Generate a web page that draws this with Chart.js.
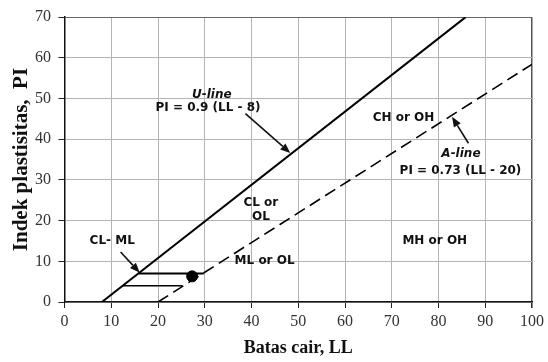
<!DOCTYPE html>
<html>
<head>
<meta charset="UTF-8">
<title>Plasticity chart</title>
<script src="https://cdn.jsdelivr.net/npm/chart.js"></script>
<style>
  html, body { margin: 0; padding: 0; background: #ffffff; }
  #wrap { width: 548px; height: 362px; }
</style>
</head>
<body>
<div id="wrap"><canvas id="plastChart"></canvas></div>
<script>
// axis ticks
const xTicks = [0, 10, 20, 30, 40, 50, 60, 70, 80, 90, 100];
const yTicks = [0, 10, 20, 30, 40, 50, 60, 70];

// U-line PI = 0.9 (LL - 8)
const uLineLL = [8, 85.8];
const uLinePI = [0, 70];
// A-line PI = 0.73 (LL - 20)
const aLineLL = [20, 100];
const aLinePI = [0, 58.4];
// CL-ML band
const bandTopLL = [15.8, 29.8];
const bandTopPI = [7, 7];
const bandLowLL = [12.4, 25.2];
const bandLowPI = [4, 4];
// sample point
const sampleLL = [27.3];
const samplePI = [6.3];

// zone / line labels (data coordinates)
const labelText = ['U-line', 'PI = 0.9 (LL - 8)', 'CH or OH', 'A-line', 'PI = 0.73 (LL - 20)',
                   'CL or', 'OL', 'MH or OH', 'ML or OL', 'CL- ML'];
const labelLL = [31.5, 30.7, 72.5, 84.8, 84.7, 42.0, 42.0, 79.2, 42.8, 10.2];
const labelPI = [50.8, 47.6, 45.3, 36.3, 32.3, 24.3, 20.9, 14.9, 10.0, 14.9];
const labelItalic = [true, false, false, true, false, false, false, false, false, false];

// arrows: from -> to
const arrowFromLL = [38.7, 86.4, 12.0];
const arrowFromPI = [46.3, 39.0, 12.3];
const arrowToLL = [48.3, 82.9, 16.1];
const arrowToPI = [36.6, 45.5, 7.2];

function pts(xs, ys) {
    return xs.map((x, i) => ({ x: x, y: ys[i] }));
}

const annotate = {
    id: 'annotate',
    afterDatasetsDraw(chart) {
        const ctx = chart.ctx;
        const xs = chart.scales.x;
        const ys = chart.scales.y;
        ctx.save();
        ctx.fillStyle = '#111';
        ctx.strokeStyle = '#111';
        ctx.textAlign = 'center';
        ctx.textBaseline = 'middle';
        labelText.forEach((t, i) => {
            ctx.font = (labelItalic[i] ? 'italic ' : '') + 'bold 12px "DejaVu Sans", Verdana, sans-serif';
            ctx.fillText(t, xs.getPixelForValue(labelLL[i]), ys.getPixelForValue(labelPI[i]));
        });
        arrowFromLL.forEach((v, i) => {
            const x1 = xs.getPixelForValue(v);
            const y1 = ys.getPixelForValue(arrowFromPI[i]);
            const x2 = xs.getPixelForValue(arrowToLL[i]);
            const y2 = ys.getPixelForValue(arrowToPI[i]);
            const ang = Math.atan2(y2 - y1, x2 - x1);
            const head = 10, half = 4;
            const bx = x2 - head * Math.cos(ang);
            const by = y2 - head * Math.sin(ang);
            ctx.lineWidth = 1.6;
            ctx.beginPath();
            ctx.moveTo(x1, y1);
            ctx.lineTo(bx, by);
            ctx.stroke();
            ctx.beginPath();
            ctx.moveTo(x2, y2);
            ctx.lineTo(bx + half * Math.sin(ang), by - half * Math.cos(ang));
            ctx.lineTo(bx - half * Math.sin(ang), by + half * Math.cos(ang));
            ctx.closePath();
            ctx.fill();
        });
        ctx.restore();
    }
};

const lineStyle = { borderColor: '#000', pointRadius: 0, showLine: true, fill: false };

new Chart(document.getElementById('plastChart'), {
    type: 'scatter',
    data: {
        datasets: [
            Object.assign({ label: 'U-line', data: pts(uLineLL, uLinePI), borderWidth: 2 }, lineStyle),
            Object.assign({ label: 'A-line', data: pts(aLineLL, aLinePI), borderWidth: 1.6, borderDash: [12, 6] }, lineStyle),
            Object.assign({ label: 'CL-ML top', data: pts(bandTopLL, bandTopPI), borderWidth: 2 }, lineStyle),
            Object.assign({ label: 'CL-ML low', data: pts(bandLowLL, bandLowPI), borderWidth: 1.5 }, lineStyle),
            {
                label: 'Sampel',
                data: pts(sampleLL, samplePI),
                backgroundColor: '#000',
                borderColor: '#000',
                pointRadius: 5.5,
                showLine: false
            }
        ]
    },
    options: {
        responsive: true,
        maintainAspectRatio: false,
        animation: false,
        layout: { padding: { top: 14, right: 14.5, left: 0, bottom: 0 } },
        plugins: { legend: { display: false }, tooltip: { enabled: false } },
        scales: {
            x: {
                type: 'linear',
                min: 0,
                max: 100,
                afterBuildTicks: (s) => { s.ticks = xTicks.map(v => ({ value: v })); },
                afterFit: (s) => { s.height = 60; },
                ticks: { color: '#333', padding: 4, font: { family: '"Liberation Serif", serif', size: 16 } },
                grid: {
                    color: (c) => c.tick && c.tick.value === 100 ? '#555' : '#b4b4b4',
                    lineWidth: (c) => c.tick && c.tick.value === 100 ? 1.5 : 1,
                    tickColor: '#222',
                    tickLength: 6
                },
                border: { color: '#111', width: 1.5 },
                title: {
                    display: true,
                    text: 'Batas cair, LL',
                    color: '#111',
                    padding: { top: 0, bottom: 3 },
                    font: { family: '"Liberation Serif", serif', size: 18, weight: 'bold' }
                }
            },
            y: {
                type: 'linear',
                min: 0,
                max: 70,
                afterBuildTicks: (s) => { s.ticks = yTicks.map(v => ({ value: v })); },
                afterFit: (s) => { s.width = 64.5; },
                ticks: { color: '#333', padding: 7.5, font: { family: '"Liberation Serif", serif', size: 16 } },
                grid: {
                    color: (c) => c.tick && c.tick.value === 70 ? '#666' : '#b4b4b4',
                    lineWidth: 1,
                    tickColor: '#222',
                    tickLength: 6
                },
                border: { color: '#111', width: 1.5 },
                title: {
                    display: true,
                    text: 'Indek plastisitas,  PI',
                    color: '#111',
                    padding: { top: 9, bottom: 0 },
                    font: { family: '"Liberation Serif", serif', size: 21, weight: 'bold' }
                }
            }
        }
    },
    plugins: [annotate]
});
</script>
</body>
</html>
